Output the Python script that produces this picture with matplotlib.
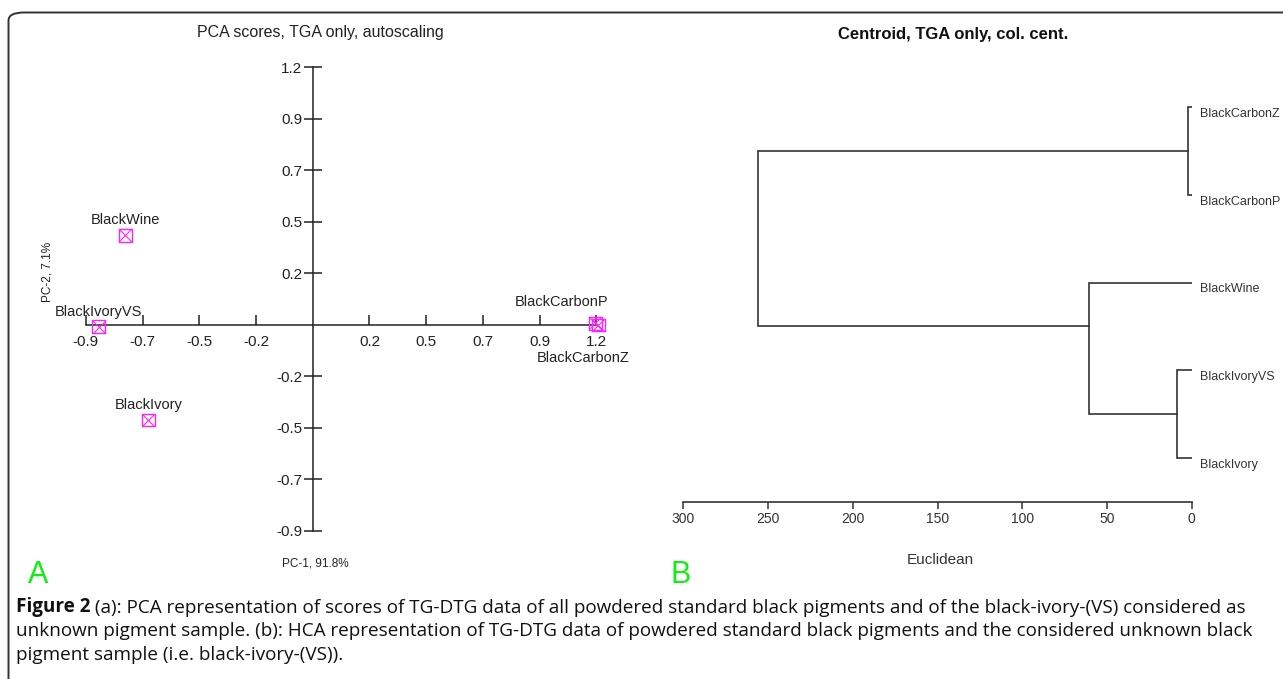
import matplotlib
matplotlib.use('Agg')
import matplotlib.pyplot as plt
from matplotlib.patches import FancyBboxPatch

# --- PCA scores (panel A) ---
samples = ['BlackWine', 'BlackIvoryVS', 'BlackIvory', 'BlackCarbonP', 'BlackCarbonZ']
pc1 = [-0.76, -0.867, -0.666, 1.145, 1.158]
pc2 = [0.40, -0.008, -0.424, 0.008, 0.0]
pca_ticks = [-0.92, -0.69, -0.46, -0.23, 0.23, 0.46, 0.69, 0.92, 1.15]
pca_ticklabels = ['-0.9', '-0.7', '-0.5', '-0.2', '0.2', '0.5', '0.7', '0.9', '1.2']

# --- HCA dendrogram (panel B) ---
leaves = ['BlackCarbonZ', 'BlackCarbonP', 'BlackWine', 'BlackIvoryVS', 'BlackIvory']
# (child a, child b, distance); new nodes are numbered after the leaves
merges = [(0, 1, 2.0), (3, 4, 9.0), (2, 6, 60.5), (5, 7, 256.0)]
dist_ticks = [300, 250, 200, 150, 100, 50, 0]

caption_lines = [
    '(a): PCA representation of scores of TG-DTG data of all powdered standard black pigments '
    'and of the black-ivory-(VS) considered as',
    'unknown pigment sample. (b): HCA representation of TG-DTG data of powdered standard black '
    'pigments and the considered unknown black',
    'pigment sample (i.e. black-ivory-(VS)).',
]

W, H = 1283, 679
SANS = ['Liberation Sans', 'DejaVu Sans']
CAP = ['Open Sans', 'DejaVu Sans']
MAGENTA = '#ff22ff'


def px_rect(left, top, right, bottom):
    return [left / W, 1 - bottom / H, (right - left) / W, (bottom - top) / H]


def fx(x):
    return x / W


def fy(y):
    return 1 - y / H


plt.rcParams['font.family'] = SANS
fig = plt.figure(figsize=(W / 100, H / 100), dpi=100)

# outer frame with rounded corners
frame = FancyBboxPatch((fx(8.5), fy(700)), fx(1300), fy(12.5) - fy(700),
                       boxstyle='round,pad=0,rounding_size=0.012',
                       transform=fig.transFigure, fill=False,
                       edgecolor='#333333', linewidth=1.4, clip_on=False)
fig.patches.append(frame)

# ---------------- panel A ----------------
ax = fig.add_axes(px_rect(53.7, 22.7, 633.4, 560.1))
ax.set_xlim(-1.05, 1.30)
ax.set_ylim(-1.05, 1.35)
ax.patch.set_visible(False)
for s in ['top', 'right']:
    ax.spines[s].set_visible(False)
ax.spines['left'].set_position(('data', 0))
ax.spines['bottom'].set_position(('data', 0))
ax.spines['left'].set_bounds(-0.92, 1.15)
ax.spines['bottom'].set_bounds(-0.92, 1.15)
for s in ['left', 'bottom']:
    ax.spines[s].set_linewidth(1.1)
    ax.spines[s].set_color('#222222')

ax.set_xticks(pca_ticks)
ax.set_xticklabels(pca_ticklabels)
ax.set_yticks(pca_ticks)
ax.set_yticklabels(pca_ticklabels)
ax.tick_params(axis='x', direction='in', length=7.5, width=1.1, pad=7,
               labelsize=11, colors='#222222')
ax.tick_params(axis='y', direction='inout', length=13, width=1.1, pad=1,
               labelsize=11, colors='#222222')

ax.scatter(pc1, pc2, marker='s', s=9.2 ** 2, facecolors='none',
           edgecolors=MAGENTA, linewidths=1.0, zorder=3)
ax.scatter(pc1, pc2, marker='x', s=9.2 ** 2, color=MAGENTA,
           linewidths=0.8, zorder=3)

label_offsets = {
    'BlackWine': (0, 11),
    'BlackIvoryVS': (0, 11),
    'BlackIvory': (0, 11),
    'BlackCarbonP': (-24, 15),
    'BlackCarbonZ': (-11, -24),
}
for name, x, y in zip(samples, pc1, pc2):
    ax.annotate(name, (x, y), xytext=label_offsets[name], textcoords='offset points',
                ha='center', va='center', fontsize=10.5, color='#222222',
                annotation_clip=False)

fig.text(fx(320), fy(32), 'PCA scores, TGA only, autoscaling', ha='center', va='center',
         fontsize=11.5, color='#222222')
fig.text(fx(47), fy(272), 'PC-2, 7.1%', rotation=90, ha='center', va='center',
         fontsize=8.5, color='#222222')
fig.text(fx(315), fy(564), 'PC-1, 91.8%', ha='center', va='center',
         fontsize=8.5, color='#222222')
fig.text(fx(38), fy(575), 'A', ha='center', va='center', fontsize=22, color='#11ee11')

# ---------------- panel B ----------------
axd = fig.add_axes(px_rect(683.3, 45.2, 1191.8, 502.3))
axd.set_xlim(300, 0)
axd.set_ylim(4.5, -0.7)
axd.patch.set_visible(False)
for s in ['top', 'right', 'left']:
    axd.spines[s].set_visible(False)
axd.spines['bottom'].set_color('#333333')
axd.spines['bottom'].set_linewidth(1.2)
axd.set_yticks([])
axd.set_xticks(dist_ticks)
axd.set_xticklabels([str(t) for t in dist_ticks])
axd.tick_params(axis='x', direction='out', length=5, width=1.1, pad=2,
                labelsize=10, colors='#333333')

pos = {i: float(i) for i in range(len(leaves))}
first = {i: i for i in range(len(leaves))}
height = {i: 0.0 for i in range(len(leaves))}
for k, (a, b, d) in enumerate(merges):
    node = len(leaves) + k
    axd.plot([height[a], d, d, height[b]], [pos[a], pos[a], pos[b], pos[b]],
             color='#333333', linewidth=1.2, solid_joinstyle='miter')
    first[node] = min(first[a], first[b])
    pos[node] = (first[a] + first[b]) / 2
    height[node] = d

for i, name in enumerate(leaves):
    axd.annotate(name, (0, i), xytext=(6, -5), textcoords='offset points',
                 ha='left', va='center', fontsize=9,
                 color='#333333', annotation_clip=False)

fig.text(fx(953), fy(35), 'Centroid, TGA only, col. cent.', ha='center', va='center',
         fontsize=12, fontweight='bold', color='#111111')
fig.text(fx(940), fy(560), 'Euclidean', ha='center', va='center',
         fontsize=11, color='#333333')
fig.text(fx(681), fy(575), 'B', ha='center', va='center', fontsize=22, color='#11ee11')

# ---------------- caption ----------------
cap_size = 13.6
head = fig.text(fx(16), fy(612), 'Figure 2', ha='left', va='baseline',
                fontsize=cap_size, fontweight='bold', family=CAP, color='#111111')
fig.text(fx(16), fy(612), '', family=CAP)
fig.texts[-1].remove()
plt.annotate(' ' + caption_lines[0], xy=(1, 0), xycoords=head,
             ha='left', va='bottom', fontsize=cap_size, family=CAP, color='#111111')
for j, line in enumerate(caption_lines[1:], start=1):
    fig.text(fx(16), fy(612 + 24 * j), line, ha='left', va='baseline',
             fontsize=cap_size, family=CAP, color='#111111')

fig.savefig('out.png', dpi=100)
